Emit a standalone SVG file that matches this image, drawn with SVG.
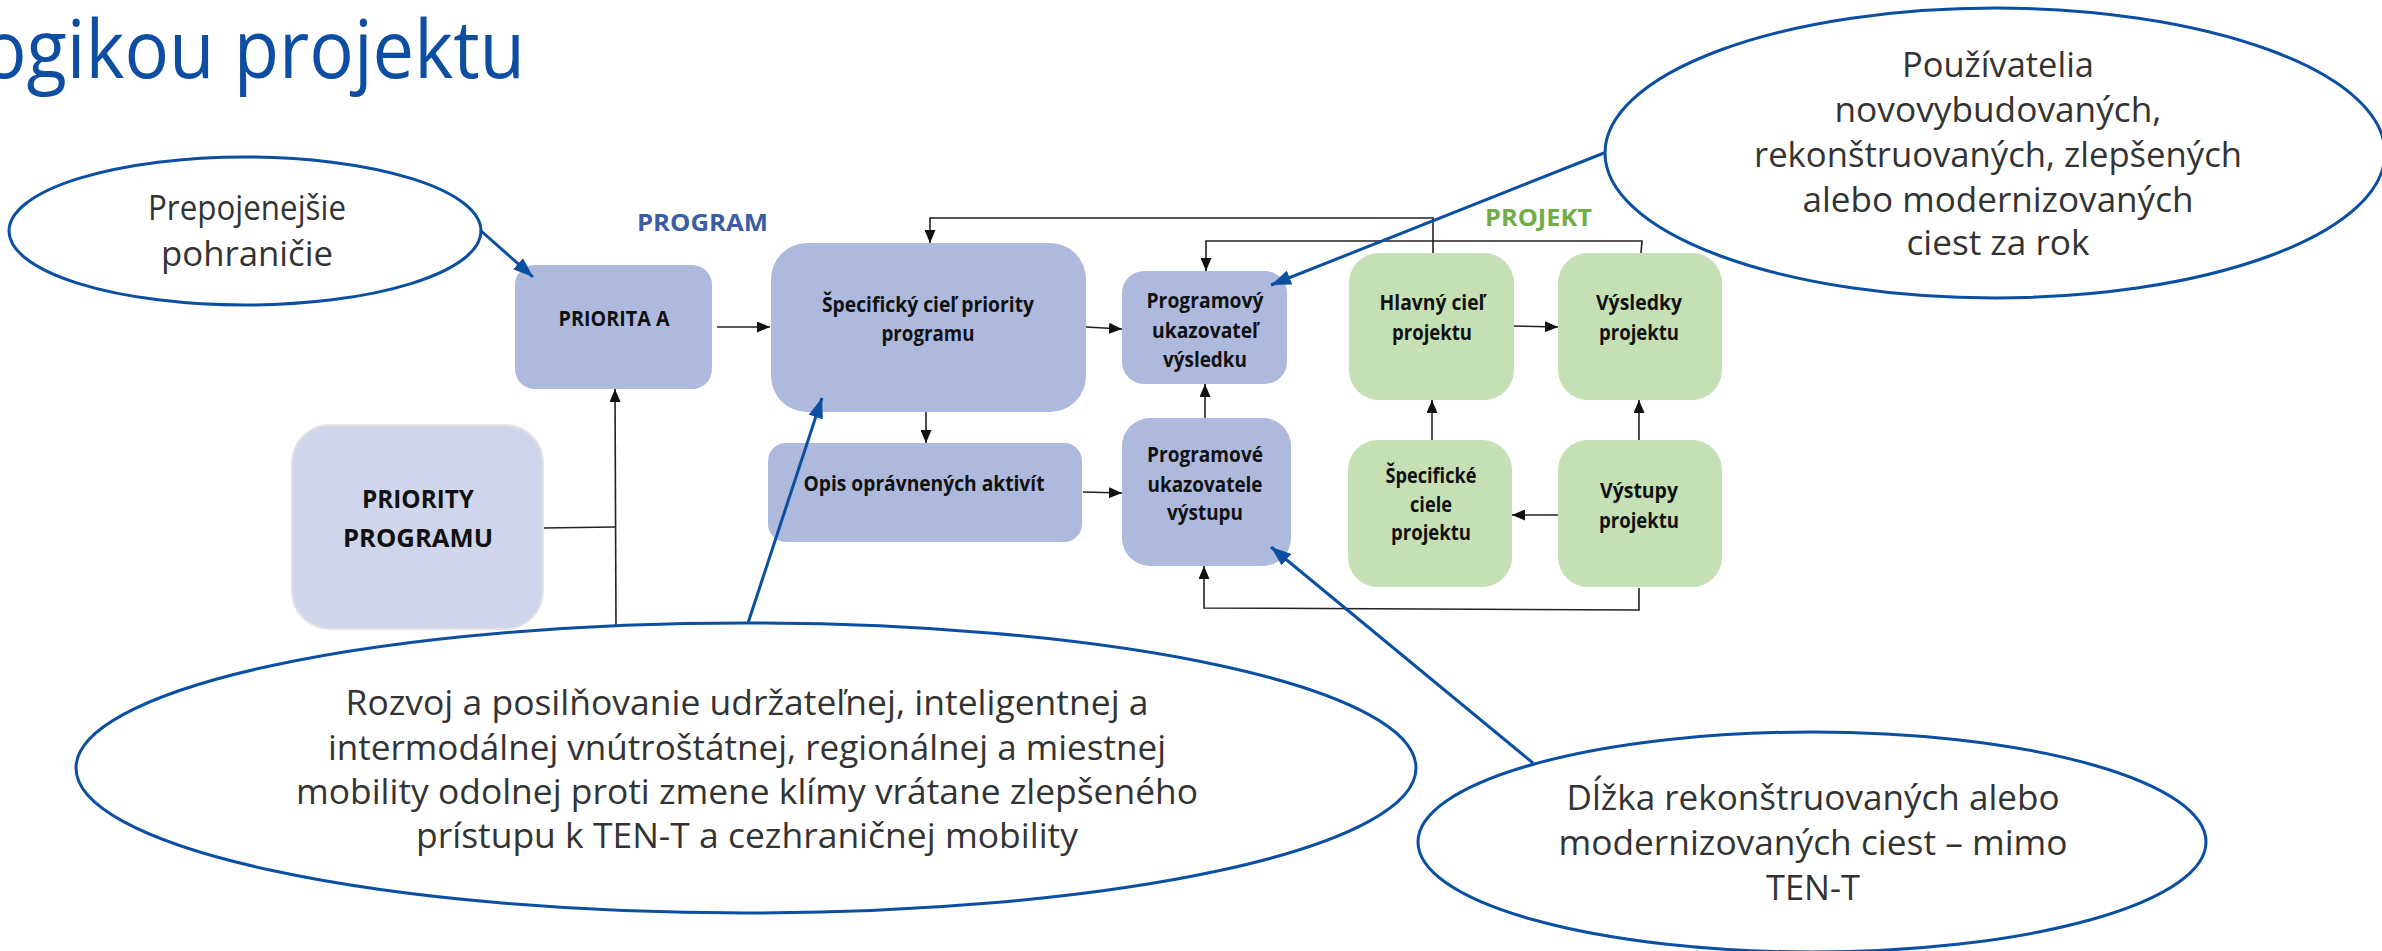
<svg xmlns="http://www.w3.org/2000/svg" width="2382" height="951" viewBox="0 0 2382 951">
<defs>
<style>
.bg{fill:#ffffff}
.prog{fill:#AEBADD}
.prio{fill:#CFD6EB;stroke:#E3E3E3;stroke-width:2}
.proj{fill:#C5E0B4}
.lbl{font-family:"Open Sans","DejaVu Sans",sans-serif;font-weight:700;font-size:21px;fill:#111;text-anchor:middle}
.big{font-size:25px}
.ell{fill:#ffffff;stroke:#0B4FA2;stroke-width:3}
.etx{font-family:"Open Sans","DejaVu Sans",sans-serif;font-weight:400;font-size:34px;fill:#333;text-anchor:middle}
.con{fill:none;stroke:#222;stroke-width:1.6}
.blue{fill:none;stroke:#0B4FA2;stroke-width:3}
.title{font-family:"Open Sans","DejaVu Sans",sans-serif;font-size:81px;fill:#0D4EA2}
.sec{font-family:"Open Sans","DejaVu Sans",sans-serif;font-weight:700;font-size:24px}
</style>
<marker id="ah" viewBox="0 0 13 11" refX="13" refY="5.5" markerWidth="13" markerHeight="11" markerUnits="userSpaceOnUse" orient="auto">
<path d="M0,0 L13,5.5 L0,11 Z" fill="#111"/>
</marker>
<marker id="bh" viewBox="0 0 20 15" refX="20" refY="7.5" markerWidth="20" markerHeight="15" markerUnits="userSpaceOnUse" orient="auto">
<path d="M0,0 L20,7.5 L0,15 Z" fill="#0B4FA2"/>
</marker>
</defs>
<rect class="bg" x="0" y="0" width="2382" height="951"/>

<text class="title" x="-18" y="78" textLength="543" lengthAdjust="spacingAndGlyphs">ogikou projektu</text>

<g id="section-labels">
<text class="sec" x="637" y="231" fill="#3A5DA3" textLength="131" lengthAdjust="spacingAndGlyphs">PROGRAM</text>
<text class="sec" x="1485" y="226" fill="#70AD47" textLength="107" lengthAdjust="spacingAndGlyphs">PROJEKT</text>
</g>

<g id="connectors">
<line class="con" x1="717" y1="327" x2="770" y2="327" marker-end="url(#ah)"/>
<line class="con" x1="1086" y1="327" x2="1122" y2="329" marker-end="url(#ah)"/>
<line class="con" x1="926" y1="410" x2="926" y2="443" marker-end="url(#ah)"/>
<line class="con" x1="1083" y1="492" x2="1122" y2="493" marker-end="url(#ah)"/>
<line class="con" x1="1205" y1="418" x2="1205" y2="384" marker-end="url(#ah)"/>
<line class="con" x1="1514" y1="326" x2="1558" y2="327" marker-end="url(#ah)"/>
<line class="con" x1="1432" y1="440" x2="1432" y2="400" marker-end="url(#ah)"/>
<line class="con" x1="1639" y1="440" x2="1639" y2="400" marker-end="url(#ah)"/>
<line class="con" x1="1558" y1="515" x2="1512" y2="515" marker-end="url(#ah)"/>
<path class="con" d="M1433,253 L1433,218 L930,218 L930,243" marker-end="url(#ah)"/>
<path class="con" d="M1641,253 L1642,241 L1206,241 L1206,271" marker-end="url(#ah)"/>
<path class="con" d="M1639,588 L1639,610 L1204,608 L1204,566" marker-end="url(#ah)"/>
<line class="con" x1="543" y1="528" x2="615" y2="527"/>
<path class="con" d="M616,625 L615,389" marker-end="url(#ah)"/>
</g>

<g id="n-priority-programu">
<rect class="prio" x="292" y="425" width="251" height="204" rx="38"/>
<text class="lbl big" x="418" y="508" textLength="112" lengthAdjust="spacingAndGlyphs">PRIORITY</text>
<text class="lbl big" x="418" y="547" textLength="150" lengthAdjust="spacingAndGlyphs">PROGRAMU</text>
</g>

<g id="n-priorita-a">
<rect class="prog" x="515" y="265" width="197" height="124" rx="20"/>
<text class="lbl" x="614" y="326" textLength="111" lengthAdjust="spacingAndGlyphs">PRIORITA A</text>
</g>

<g id="n-specificky-ciel">
<rect class="prog" x="771" y="243" width="315" height="169" rx="36"/>
<text class="lbl" x="928" y="312" textLength="212" lengthAdjust="spacingAndGlyphs">Špecifický  cieľ priority</text>
<text class="lbl" x="928" y="341" textLength="93" lengthAdjust="spacingAndGlyphs">programu</text>
</g>

<g id="n-opis">
<rect class="prog" x="768" y="443" width="314" height="99" rx="18"/>
<text class="lbl" x="924" y="491" textLength="241" lengthAdjust="spacingAndGlyphs">Opis oprávnených aktivít</text>
</g>

<g id="n-programovy-ukazovatel">
<rect class="prog" x="1122" y="271" width="165" height="113" rx="22"/>
<text class="lbl" x="1205" y="308" textLength="117" lengthAdjust="spacingAndGlyphs">Programový</text>
<text class="lbl" x="1205" y="338" textLength="106" lengthAdjust="spacingAndGlyphs">ukazovateľ</text>
<text class="lbl" x="1205" y="367" textLength="84" lengthAdjust="spacingAndGlyphs">výsledku</text>
</g>

<g id="n-programove-ukazovatele">
<rect class="prog" x="1122" y="418" width="169" height="148" rx="28"/>
<text class="lbl" x="1205" y="462" textLength="116" lengthAdjust="spacingAndGlyphs">Programové</text>
<text class="lbl" x="1205" y="492" textLength="115" lengthAdjust="spacingAndGlyphs">ukazovatele</text>
<text class="lbl" x="1205" y="520" textLength="76" lengthAdjust="spacingAndGlyphs">výstupu</text>
</g>

<g id="n-hlavny-ciel">
<rect class="proj" x="1349" y="253" width="165" height="147" rx="30"/>
<text class="lbl" x="1432" y="310" textLength="105" lengthAdjust="spacingAndGlyphs">Hlavný cieľ</text>
<text class="lbl" x="1432" y="340" textLength="80" lengthAdjust="spacingAndGlyphs">projektu</text>
</g>

<g id="n-vysledky">
<rect class="proj" x="1558" y="253" width="164" height="147" rx="30"/>
<text class="lbl" x="1639" y="310" textLength="86" lengthAdjust="spacingAndGlyphs">Výsledky</text>
<text class="lbl" x="1639" y="340" textLength="80" lengthAdjust="spacingAndGlyphs">projektu</text>
</g>

<g id="n-specificke-ciele">
<rect class="proj" x="1348" y="440" width="164" height="147" rx="30"/>
<text class="lbl" x="1431" y="483" textLength="91" lengthAdjust="spacingAndGlyphs">Špecifické</text>
<text class="lbl" x="1431" y="512" textLength="42" lengthAdjust="spacingAndGlyphs">ciele</text>
<text class="lbl" x="1431" y="540" textLength="80" lengthAdjust="spacingAndGlyphs">projektu</text>
</g>

<g id="n-vystupy">
<rect class="proj" x="1558" y="440" width="164" height="147" rx="30"/>
<text class="lbl" x="1639" y="498" textLength="78" lengthAdjust="spacingAndGlyphs">Výstupy</text>
<text class="lbl" x="1639" y="528" textLength="80" lengthAdjust="spacingAndGlyphs">projektu</text>
</g>

<g id="e-prepojenejsie">
<ellipse class="ell" cx="245" cy="231" rx="236" ry="74"/>
<text class="etx" x="247" y="220" textLength="198" lengthAdjust="spacingAndGlyphs">Prepojenejšie</text>
<text class="etx" x="247" y="266" textLength="172" lengthAdjust="spacingAndGlyphs">pohraničie</text>
</g>

<g id="e-pouzivatelia">
<ellipse class="ell" cx="1995" cy="153" rx="390" ry="145"/>
<text class="etx" x="1998" y="77" textLength="192" lengthAdjust="spacingAndGlyphs">Používatelia</text>
<text class="etx" x="1998" y="122" textLength="327" lengthAdjust="spacingAndGlyphs">novovybudovaných,</text>
<text class="etx" x="1998" y="167" textLength="488" lengthAdjust="spacingAndGlyphs">rekonštruovaných, zlepšených</text>
<text class="etx" x="1998" y="212" textLength="391" lengthAdjust="spacingAndGlyphs">alebo modernizovaných</text>
<text class="etx" x="1998" y="255" textLength="183" lengthAdjust="spacingAndGlyphs">ciest za rok</text>
</g>

<g id="e-rozvoj">
<ellipse class="ell" cx="746" cy="768" rx="670" ry="145"/>
<text class="etx" x="747" y="715" textLength="803" lengthAdjust="spacingAndGlyphs">Rozvoj a posilňovanie udržateľnej, inteligentnej a</text>
<text class="etx" x="747" y="760" textLength="838" lengthAdjust="spacingAndGlyphs">intermodálnej vnútroštátnej, regionálnej a miestnej</text>
<text class="etx" x="747" y="804" textLength="902" lengthAdjust="spacingAndGlyphs">mobility odolnej proti zmene klímy vrátane zlepšeného</text>
<text class="etx" x="747" y="848" textLength="662" lengthAdjust="spacingAndGlyphs">prístupu k TEN-T a cezhraničnej mobility</text>
</g>

<g id="e-dlzka">
<ellipse class="ell" cx="1812" cy="842" rx="394" ry="110"/>
<text class="etx" x="1813" y="810" textLength="493" lengthAdjust="spacingAndGlyphs">Dĺžka rekonštruovaných alebo</text>
<text class="etx" x="1813" y="855" textLength="509" lengthAdjust="spacingAndGlyphs">modernizovaných ciest – mimo</text>
<text class="etx" x="1813" y="900" textLength="94" lengthAdjust="spacingAndGlyphs">TEN-T</text>
</g>

<g id="callout-connectors">
<line class="blue" x1="480" y1="230" x2="533" y2="277" marker-end="url(#bh)"/>
<line class="blue" x1="1604" y1="153" x2="1271" y2="285" marker-end="url(#bh)"/>
<line class="blue" x1="748" y1="623" x2="822" y2="398" marker-end="url(#bh)"/>
<line class="blue" x1="1533" y1="763" x2="1271" y2="547" marker-end="url(#bh)"/>
</g>
</svg>
